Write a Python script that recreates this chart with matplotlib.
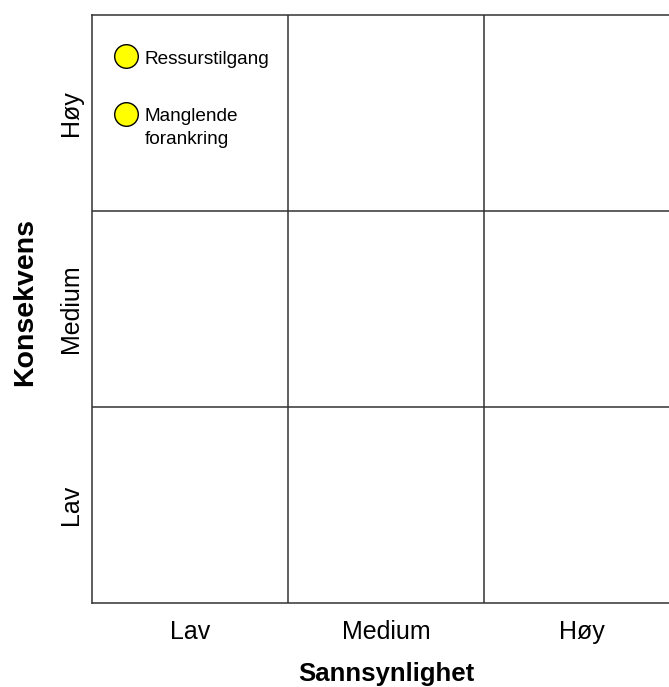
import matplotlib.pyplot as plt

plt.rcParams['font.family'] = ['Liberation Sans', 'DejaVu Sans']

levels = ['Lav', 'Medium', 'Høy']
x_label = 'Sannsynlighet'
y_label = 'Konsekvens'

# risk items: name, probability position, consequence position (0..3 grid units)
risk_names = ['Ressurstilgang', 'Manglende\nforankring']
risk_prob = [0.175, 0.175]
risk_cons = [2.79, 2.495]

fig = plt.figure(figsize=(6.69, 6.87), dpi=100)
ax = fig.add_axes([92 / 669, 84 / 687, 588 / 669, 588 / 687])

ax.set_xlim(0, 3)
ax.set_ylim(0, 3)

line_col = '#333333'
for v in [1, 2]:
    ax.axvline(v, color=line_col, lw=1.1)
    ax.axhline(v, color=line_col, lw=1.1)
for s in ax.spines.values():
    s.set_color(line_col)
    s.set_linewidth(1.1)

centers = [0.5, 1.5, 2.5]
ax.set_xticks(centers)
ax.set_xticklabels(levels, fontsize=18)
ax.set_yticks(centers)
ax.set_yticklabels(levels, fontsize=18, rotation=90, va='center')
ax.tick_params(axis='x', length=0, pad=12)
ax.tick_params(axis='y', length=0, pad=6.5)

ax.set_xlabel(x_label, fontsize=18.5, fontweight='bold', labelpad=13.5)
ax.set_ylabel(y_label, fontsize=20.5, fontweight='bold')
ax.yaxis.set_label_coords(-0.092, 0.512)

ax.plot(risk_prob, risk_cons, 'o', ms=17, mfc='#FFFF00', mec='black',
        mew=1.0, ls='none', zorder=3)
for name, px, py in zip(risk_names, risk_prob, risk_cons):
    ax.annotate(name, (px, py), xytext=(13, 4), textcoords='offset points',
                fontsize=13.7, va='top', ha='left', linespacing=1.45)

fig.savefig('out.png', dpi=100)
